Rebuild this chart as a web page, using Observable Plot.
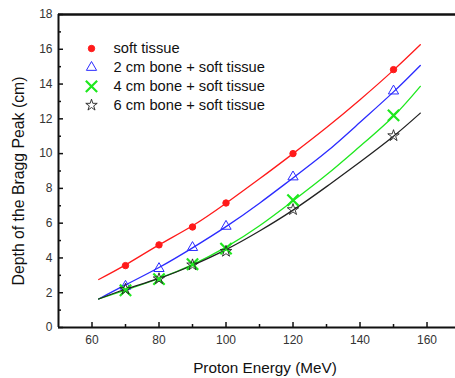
<!DOCTYPE html>
<html>
<head>
<meta charset="utf-8">
<script src="https://cdn.jsdelivr.net/npm/d3@7"></script>
<script src="https://cdn.jsdelivr.net/npm/@observablehq/plot@0.6"></script>
<style>
  html, body { margin: 0; padding: 0; background: #fff; overflow: hidden; }
  svg { font-family: "Liberation Sans", Arial, sans-serif; }
</style>
</head>
<body>
<div id="chart"></div>
<script>
// measured points
const energies = [70, 80, 90, 100, 120, 150];
const softTissue = [3.56, 4.75, 5.78, 7.16, 10.0, 14.83];
const bone2 = [2.37, 3.39, 4.6, 5.82, 8.66, 13.6];
const bone4 = [2.14, 2.78, 3.64, 4.54, 7.32, 12.2];
const bone6 = [2.2, 2.8, 3.6, 4.38, 6.78, 11.03];

// fitted curves
const fitEnergies = [62, 70, 80, 90, 100, 110, 120, 130, 140, 150, 158];
const fitSoft = [2.76, 3.6, 4.75, 5.85, 7.15, 8.55, 10.0, 11.5, 13.1, 14.8, 16.26];
const fitBone2 = [1.64, 2.45, 3.45, 4.58, 5.8, 7.15, 8.6, 10.1, 11.8, 13.55, 15.07];
const fitBone4 = [1.64, 2.15, 2.82, 3.62, 4.62, 5.85, 7.28, 8.78, 10.42, 12.15, 13.87];
const fitBone6 = [1.64, 2.2, 2.82, 3.58, 4.48, 5.55, 6.75, 8.1, 9.52, 11.0, 12.33];

const seriesNames = ["soft tissue", "2 cm bone + soft tissue", "4 cm bone + soft tissue", "6 cm bone + soft tissue"];
const xTicks = [60, 80, 100, 120, 140, 160];
const xMinor = [70, 90, 110, 130, 150];
const yTicks = [0, 2, 4, 6, 8, 10, 12, 14, 16, 18];
const yMinor = [1, 3, 5, 7, 9, 11, 13, 15, 17];

const xDomain = [50, 168.5];
const yDomain = [0, 18];

const pointSets = [softTissue, bone2, bone4, bone6];
const fitSets = [fitSoft, fitBone2, fitBone4, fitBone6];

const styles = [
  {color: "#ff1a1a", symbol: "circle", r: 3.2, fill: "#ff1a1a", sw: 1},
  {color: "#2b2bff", symbol: "triangle", r: 3.8, fill: "none", sw: 1},
  {color: "#1ee81e", symbol: "times", r: 5.2, fill: "none", sw: 2.2},
  {color: "#222222", symbol: "star", r: 3.6, fill: "none", sw: 0.9}
];

const fitRows = fitSets.flatMap((ys, s) => ys.map((y, i) => ({s, x: fitEnergies[i], y})));
const pointRows = pointSets.flatMap((ys, s) => ys.map((y, i) => ({s, x: energies[i], y})));

const marks = [];
// axis lines
marks.push(Plot.ruleY([yDomain[1]], {stroke: "#111", strokeWidth: 2.5}));
marks.push(Plot.ruleY([yDomain[0]], {stroke: "#111", strokeWidth: 2}));
marks.push(Plot.ruleX([xDomain[0]], {stroke: "#111", strokeWidth: 2}));
// ticks (inward)
marks.push(Plot.axisX({ticks: xTicks, tickSize: -5, tickFormat: () => "", label: null, strokeWidth: 1.5, stroke: "#111"}));
marks.push(Plot.axisX({ticks: xMinor, tickSize: -3, tickFormat: () => "", label: null, strokeWidth: 1.5, stroke: "#111"}));
marks.push(Plot.axisY({ticks: yTicks, tickSize: -5, tickFormat: () => "", label: null, strokeWidth: 1.5, stroke: "#111"}));
marks.push(Plot.axisY({ticks: yMinor, tickSize: -3, tickFormat: () => "", label: null, strokeWidth: 1.5, stroke: "#111"}));
// tick labels
marks.push(Plot.axisX({ticks: xTicks, tickSize: 0, tickPadding: 8, label: null, fontSize: 12, fill: "#333"}));
marks.push(Plot.axisY({ticks: yTicks, tickSize: 0, tickPadding: 6, label: null, fontSize: 12, fill: "#333"}));

// fitted lines
styles.forEach((st, s) => {
  marks.push(Plot.line(fitRows.filter(d => d.s === s), {x: "x", y: "y", stroke: st.color, strokeWidth: 1.3, curve: "natural"}));
});
// points
styles.forEach((st, s) => {
  marks.push(Plot.dot(pointRows.filter(d => d.s === s), {x: "x", y: "y", symbol: st.symbol, r: st.r, stroke: st.color, fill: st.fill, strokeWidth: st.sw}));
});

// legend
styles.forEach((st, s) => {
  const dy = 34 + s * 18.9;
  marks.push(Plot.dot([seriesNames[s]], {frameAnchor: "top-left", dx: 33, dy, symbol: st.symbol, r: st.r, stroke: st.color, fill: st.fill, strokeWidth: st.sw}));
  marks.push(Plot.text([seriesNames[s]], {frameAnchor: "top-left", dx: 55, dy, text: d => d, textAnchor: "start", lineAnchor: "middle", fontSize: 14.7, fill: "#111"}));
});

// axis titles
marks.push(Plot.text(["Proton Energy (MeV)"], {frameAnchor: "bottom", dx: 8, dy: 41, text: d => d, textAnchor: "middle", fontSize: 15.3, fill: "#111", lineAnchor: "middle"}));
marks.push(Plot.text(["Depth of the Bragg Peak (cm)"], {frameAnchor: "left", dx: -40, dy: 10, text: d => d, rotate: -90, textAnchor: "middle", fontSize: 15.8, fill: "#111", lineAnchor: "middle"}));

const chart = Plot.plot({
  width: 455,
  height: 378,
  marginLeft: 58,
  marginRight: 0,
  marginTop: 14,
  marginBottom: 51,
  style: {fontFamily: '"Liberation Sans", Arial, sans-serif', background: "#fff", overflow: "visible"},
  x: {domain: xDomain, axis: null},
  y: {domain: yDomain, axis: null},
  marks
});
document.getElementById("chart").append(chart);
</script>
</body>
</html>
